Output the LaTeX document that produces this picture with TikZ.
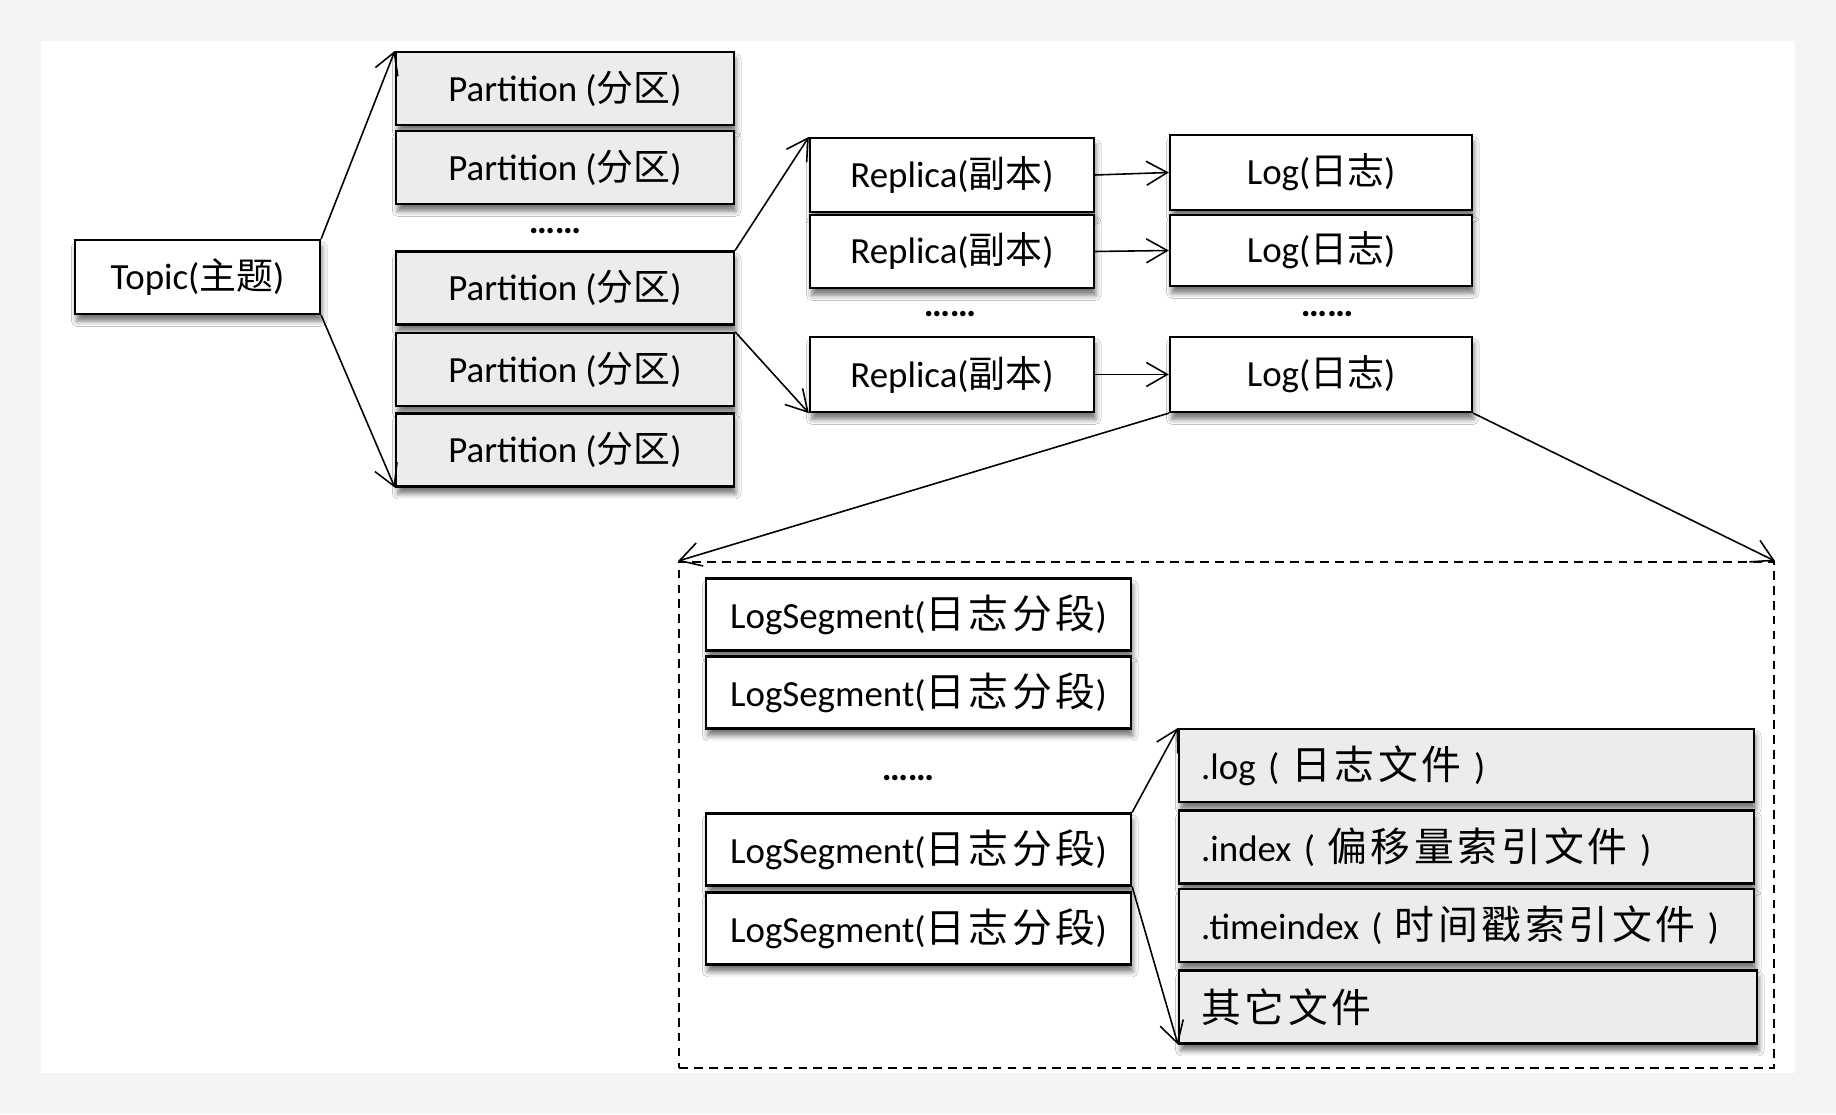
\documentclass[tikz,border=0pt]{standalone}
\usepackage{fontspec}
\setmainfont{Carlito}
\newfontfamily\zhfont{Noto Sans CJK SC}
\newfontfamily\zhwide[Scale=1.08,LetterSpace=9]{Noto Sans CJK SC}
\newcommand{\zh}[1]{{\zhfont #1}}
\newcommand{\zhs}[1]{{\zhwide #1}}
\newcommand{\labfont}{\fontsize{21}{25}\selectfont}
\usetikzlibrary{arrows.meta,positioning,shadows.blur}
\definecolor{boxg}{HTML}{ECECEC}
\definecolor{pageg}{HTML}{F4F4F4}
\tikzset{
  link/.style={-{Straight Barb[length=4.2mm,width=4.8mm]}, line width=0.9pt},
  boxshadow/.style={blur shadow={shadow xshift=1pt, shadow yshift=-4pt, shadow blur radius=3pt, shadow opacity=55}},
  plainbox/.style={draw, line width=1.3pt, fill=white, inner sep=0pt, font=\labfont, boxshadow},
  graybox/.style={plainbox, fill=boxg},
  filebox/.style={draw, line width=1.3pt, fill=boxg, font=\labfont, boxshadow,
    inner xsep=0.44cm, inner ysep=0pt, align=left, minimum height=1.46cm, anchor=west},
  frame/.style={draw, line width=1.1pt, dash pattern=on 5pt off 3.5pt, inner sep=0pt},
  dots/.style={font=\labfont\bfseries, inner sep=0pt},
}

\begin{document}
\begin{tikzpicture}[x=1cm,y=1cm]
\useasboundingbox (0,0) rectangle (36.72,22.28);

% ===================== page =================================================
\fill[pageg] (0,0) rectangle (36.72,22.28);
\fill[white] (0.82,0.82) rectangle (35.90,21.46);

% ===================== topic and partitions =================================
\node[plainbox, minimum width=4.90cm, minimum height=1.48cm] (topic) at (3.95,16.74) {Topic(\zh{主题})};
\foreach \n/\y in {p1/20.51, p2/18.93, p3/16.52, p4/14.89, p5/13.28}{
  \node[graybox, minimum width=6.76cm, minimum height=1.46cm] (\n) at (11.30,\y) {Partition (\zh{分区})};}
\node[dots] (pdots) at (11.10,17.66) {……};

% ===================== replicas and logs ====================================
\node[plainbox, minimum width=5.68cm, minimum height=1.48cm] (r1) at (19.04,18.78) {Replica(\zh{副本})};
\node[plainbox, minimum width=5.68cm, minimum height=1.46cm] (r2) at (19.04,17.25) {Replica(\zh{副本})};
\node[plainbox, minimum width=5.68cm, minimum height=1.50cm] (r3) at (19.04,14.79) {Replica(\zh{副本})};
\node[plainbox, minimum width=6.04cm, minimum height=1.50cm] (l1) at (26.42,18.83) {Log(\zh{日志})};
\node[plainbox, minimum width=6.04cm, minimum height=1.42cm] (l2) at (26.42,17.27) {Log(\zh{日志})};
\node[plainbox, minimum width=6.04cm, minimum height=1.50cm] (l3) at (26.42,14.79) {Log(\zh{日志})};
\node[dots] (rdots) at (19.00,16.00) {……};
\node[dots] (ldots) at (26.54,16.00) {……};

% ===================== log segments and files ===============================
\node[frame, minimum width=21.90cm, minimum height=10.12cm] (segs) at (24.53,5.98) {};
\foreach \n/\y in {s1/9.99, s2/8.43, s3/5.29, s4/3.71}{
  \node[plainbox, minimum width=8.50cm, minimum height=1.44cm] (\n) at (18.37,\y) {LogSegment(\zhs{日志分段})};}
\node[dots] (sdots) at (18.16,6.72) {……};
\node[filebox, text width=10.62cm] (f1) at (23.56,6.97) {.log ( \zhs{日志文件} )};
\node[filebox, text width=10.62cm] (f2) at (23.56,5.34) {.index ( \zhs{偏移量索引文件} )};
\node[filebox, text width=10.62cm] (f3) at (23.56,3.77) {.timeindex ( \zhs{时间戳索引文件} )};
\node[filebox, text width=10.68cm] (f4) at (23.56,2.14) {\zhs{其它文件}};

% ===================== connectors ===========================================
\draw[link] (topic.north east) -- (p1.north west);
\draw[link] (topic.south east) -- (p5.south west);
\draw[link] (p3.north east) -- (r1.north west);
\draw[link] (p4.north east) -- (r3.south west);
\draw[link] (r1.east) -- (l1.west);
\draw[link] (r2.east) -- (l2.west);
\draw[link] (r3.east) -- (l3.west);
\draw[link] (l3.south west) -- (segs.north west);
\draw[link] (l3.south east) -- (segs.north east);
\draw[link] (s3.north east) -- (f1.north west);
\draw[link] (s3.south east) -- (f4.south west);

\end{tikzpicture}
\end{document}
